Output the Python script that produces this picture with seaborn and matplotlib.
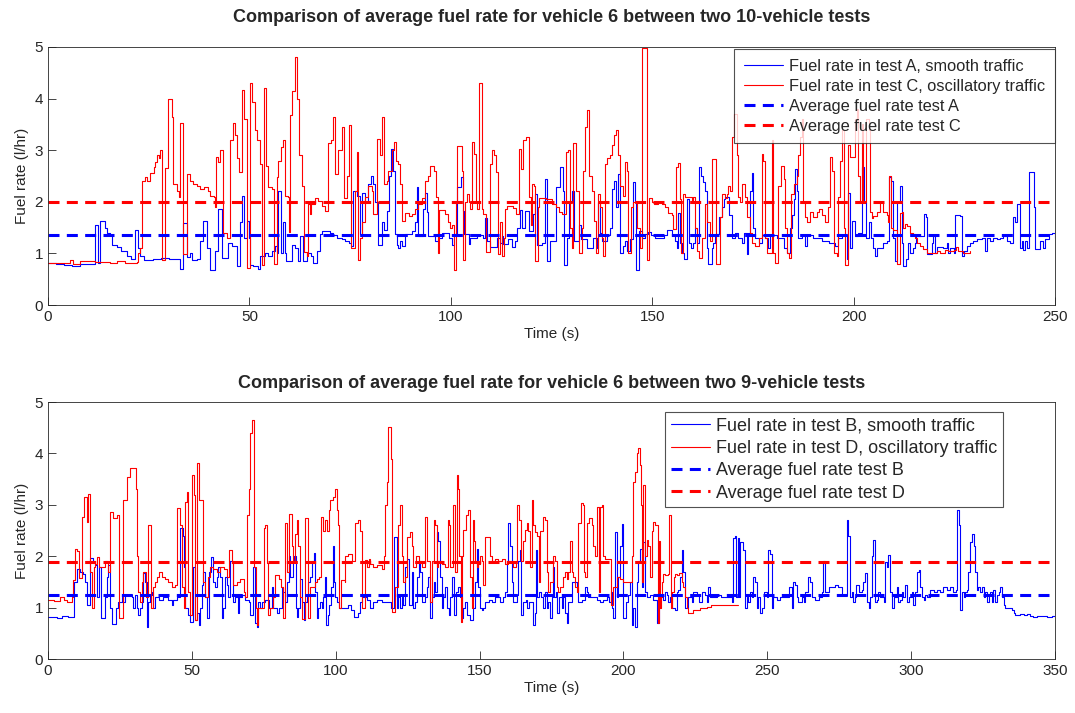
import matplotlib
matplotlib.use("Agg")
import matplotlib.pyplot as plt
import seaborn as sns

# ---- data: (time s, fuel rate l/hr) step points ----
test_a = [(0,0.82),(2,0.80),(4,0.78),(6,0.76),(8,0.79),(10,0.80),(11.7,1.55),(12.3,0.82),(12.9,1.62),
    (14.2,1.5),(14.7,1.4),(15.4,1.35),(16,1.16),(17,1.12),(18.2,1.05),(19.5,0.95),(20.5,0.9),(21.6,1.45),
    (22.4,1.1),(22.8,0.95),(23.7,0.88),(26,0.9),(28,0.92),(30,0.9),(32.8,0.7),(33.6,1.58),(34.4,0.94),
    (35.2,1.0),(35.7,0.88),(37,0.9),(37.7,1.24),(38.4,1.63),(39.4,1.1),(40.2,0.68),(41.5,1.04),(42.3,1.86),
    (43.1,0.91),(44.8,1.2),(45.6,1.15),(46.9,0.75),(47.7,1.6),(48.1,2.12),(48.7,1.3),(49.3,1.63),(49.9,1.3),
    (50.2,0.78),(50.9,0.75),(52.2,0.7),(52.6,0.95),(53.9,1.0),(54.7,0.95),(55.5,1.05),(56.3,1.15),(56.8,1.0),
    (57.2,2.21),(57.8,1.0),(58.4,1.6),(58.8,1.0),(59.2,0.85),(60.5,1.17),(61.3,1.1),(62,0.85),(62.6,1.34),
    (63.4,0.85),(64.2,1.0),(65.4,0.95),(65.9,0.81),(66.7,1.05),(67.5,1.37),(67.9,1.43),(70,1.4),(70.8,1.35),
    (71.7,1.3),(72.9,1.28),(73.7,1.25),(74.6,1.2),(75.2,1.15),(75.6,2.21),(76.6,2.12),(77.5,1.37),(77.9,2.18),
    (78.7,2.0),(79.5,2.35),(80.2,2.5),(80.8,2.35),(81.2,2.0),(81.8,1.17),(82.8,1.6),(83.5,1.45),(84.1,1.82),
    (84.7,2.5),(85.2,3.03),(85.7,2.6),(86.2,1.37),(86.6,1.17),(87,1.1),(87.4,1.25),(87.8,1.15),(88.6,1.37),
    (90.3,1.43),(91.1,1.6),(91.5,2.28),(91.9,1.34),(93.2,1.86),(93.6,2.18),(94,1.8),(94.4,1.34),(96.1,1.24),
    (96.9,1.3),(97.7,1.4),(99.6,1.3),(100.2,1.16),(100.8,1.37),(101.5,2.28),(102.4,2.48),(102.9,1.82),
    (103.3,1.37),(104.4,1.18),(104.8,1.3),(106.4,1.35),(108,1.3),(108.5,1.69),(109,1.24),(109.6,1.12),
    (111.4,1.3),(112.2,1.2),(112.6,1.34),(113,1.18),(114.1,1.27),(115.1,1.12),(116,1.24),(116.4,1.5),
    (117.2,1.85),(117.6,1.5),(118.4,1.82),(119.5,1.43),(120.5,1.77),(120.9,2.15),(121.5,1.17),(122.6,1.2),
    (123.4,2.44),(123.8,0.85),(124.5,1.24),(126.1,2.28),(127.1,2.67),(127.8,2.2),(128.1,0.78),(128.8,1.3),
    (129.4,2.0),(130,2.21),(130.6,1.24),(131.7,1.55),(132.3,1.28),(133.7,1.1),(135.4,1.3),(136.2,1.1),
    (136.6,2.0),(137,1.4),(137.6,1.24),(138.7,1.35),(139.4,1.5),(140,2.25),(140.4,2.41),(141,1.9),(141.4,2.54),
    (142,1.0),(142.8,1.15),(143.2,1.24),(143.7,1.05),(144.5,1.27),(145.2,2.38),(145.6,2.0),(146,0.68),
    (146.6,1.43),(147.4,1.3),(148.2,1.37),(149,1.42),(149.8,1.35),(150.6,1.3),(152.8,1.35),(153.6,1.45),
    (154.8,1.35),(155.7,1.25),(156.1,1.1),(156.5,1.79),(156.9,1.2),(157.5,1.0),(158,0.9),(158.6,2.05),
    (159.1,1.2),(159.6,1.1),(160.2,1.2),(160.6,1.5),(161.1,1.2),(161.6,2.67),(162.1,2.5),(162.7,2.38),
    (163.1,2.2),(163.5,1.1),(163.9,0.8),(164.8,1.1),(165.2,1.2),(165.6,1.37),(166.6,1.7),(167.3,1.9),
    (167.7,2.05),(168.1,2.1),(169.1,1.75),(169.7,1.3),(170.6,1.4),(171.4,1.3),(172.2,1.2),(172.9,1.4),
    (173.5,0.98),(173.9,1.4),(174.3,2.2),(174.7,2.55),(175.1,1.5),(175.5,1.3),(176.4,1.2),(177.2,1.35),
    (178,1.3),(178.8,1.1),(179.3,1.35),(180.9,1.3),(182.6,1.1),(183.4,1.0),(184.2,1.5),(184.6,1.75),
    (185.1,2.05),(185.5,2.64),(185.9,2.2),(186.3,1.3),(187.1,1.35),(188,1.15),(188.4,1.35),(190,1.3),
    (192.1,1.25),(193.8,1.2),(195.4,1.15),(196.2,1.3),(197.1,1.35),(198.3,0.9),(198.7,2.18),(199.1,1.1),
    (199.5,1.63),(200.3,1.34),(201.2,1.4),(202.2,2.67),(202.6,2.0),(203.1,1.3),(203.7,1.6),(204.2,1.3),
    (204.9,1.1),(205.3,0.95),(205.7,1.1),(207.4,1.2),(208.2,1.25),(208.9,2.48),(209.2,2.4),(209.7,1.3),
    (210.3,0.85),(210.7,2.0),(211.5,2.31),(211.9,1.2),(212.3,0.75),(213,0.9),(213.6,1.2),(214,1.0),
    (214.7,1.1),(215.2,1.2),(215.6,1.34),(217.5,1.76),(218,1.7),(218.3,0.98),(219.4,1.2),(219.8,1.34),
    (220.2,1.0),(220.6,1.12),(222.3,1.1),(223.1,1.2),(223.5,1.0),(223.9,1.1),(224.8,1.0),(225.2,1.75),
    (226.4,1.73),(226.8,0.95),(227.3,1.05),(228.1,1.15),(228.9,1.2),(229.7,1.24),(230.6,1.28),(231.8,1.3),
    (232.6,1.05),(233,1.3),(233.9,1.24),(234.7,1.3),(235.5,1.27),(236.4,1.3),(237.2,1.34),(238,1.24),
    (238.8,1.2),(239.5,1.7),(240.1,1.6),(240.5,1.95),(241.2,1.1),(241.7,1.24),(242.1,1.07),(242.6,1.24),
    (243,1.1),(243.6,2.57),(244.9,1.9),(245.1,1.08),(246.3,1.24),(246.9,1.1),(247.5,1.27),(248.4,1.37),
    (249.2,1.4),(250,1.3)]

test_c = [(0,0.82),(5.5,0.88),(6.2,0.8),(8,0.85),(11.7,0.84),(15.4,0.82),(17,0.86),(19,0.82),(22,0.84),
    (22.4,1.0),(22.8,1.1),(23.3,2.41),(24.1,2.48),(24.6,2.4),(25.3,2.55),(26.2,2.67),(26.6,2.77),(27,2.9),
    (27.6,2.85),(27.8,3.0),(28.2,0.88),(29.1,2.65),(29.9,4.0),(30.7,3.65),(31.1,2.35),(31.9,2.2),(32.4,2.1),
    (32.8,3.52),(33.4,0.98),(34.4,2.54),(35.3,2.4),(36.1,2.35),(36.9,2.3),(37.7,2.25),(38.6,2.28),(39.8,2.2),
    (40.2,2.12),(41.1,2.1),(41.5,1.9),(41.7,2.87),(42.3,2.77),(42.7,3.0),(43.4,1.4),(44.4,1.3),(45.2,3.19),
    (45.9,3.52),(46.4,3.29),(47,2.85),(47.5,2.57),(48.1,4.17),(48.7,3.6),(49.3,0.72),(50.1,4.3),(50.7,3.94),
    (51.4,3.39),(52,3.19),(52.6,2.74),(53,0.78),(53.5,4.2),(54,2.7),(54.5,2.28),(55.5,2.25),(56.2,0.8),
    (56.8,2.48),(57.2,2.8),(57.8,3.06),(58.4,3.19),(58.8,2.12),(59.5,2.1),(59.7,1.42),(60.1,3.68),(60.5,4.14),
    (61.3,4.81),(61.9,4.0),(62.4,2.9),(63,2.3),(63.6,1.03),(64.2,0.95),(64.6,1.95),(65,1.76),(65.4,1.95),
    (66.3,2.08),(67.1,2.02),(67.9,1.92),(68.8,1.82),(69.4,3.13),(70.3,3.2),(70.8,3.65),(71.2,2.54),(72.1,3.0),
    (72.9,3.44),(73.6,2.08),(74.1,2.5),(74.7,3.49),(75.2,1.1),(76.2,2.2),(76.6,2.96),(77,0.88),(77.5,1.3),
    (77.9,1.6),(78.6,2.1),(79.5,2.3),(80.4,2.2),(80.8,1.76),(81.6,3.22),(82.4,2.9),(82.8,3.65),(83.3,2.35),
    (84.1,2.41),(84.5,2.6),(85.3,3.0),(86,3.16),(86.3,2.8),(87,2.74),(87.4,2.35),(87.8,1.63),(88.6,1.79),
    (89.5,1.72),(90.3,1.76),(91.1,1.86),(91.9,1.95),(92.8,2.08),(93.6,2.41),(94.3,2.5),(94.8,2.7),(95.7,2.6),
    (96.3,2.1),(96.7,1.01),(97.1,1.85),(98.6,1.76),(99.4,1.6),(99.8,1.5),(100.4,1.55),(100.9,0.68),(101.3,2.0),
    (101.5,3.09),(102.7,2.6),(103.1,0.88),(103.5,2.0),(104,2.15),(104.4,2.0),(104.8,1.86),(105.2,3.16),
    (105.8,2.93),(106.3,2.0),(106.6,1.86),(107.1,4.3),(107.7,1.86),(108.1,1.76),(108.7,1.03),(109.6,2.74),
    (110.1,3.0),(110.7,2.9),(111.2,2.57),(111.8,0.99),(112.2,1.6),(112.8,0.95),(113.1,1.3),(113.5,1.86),
    (114.0,1.92),(115.5,1.88),(116.3,1.77),(116.8,3.03),(117.4,2.64),(117.8,3.19),(118.7,3.26),(119.5,2.1),
    (119.9,1.56),(120.1,2.35),(120.7,2.3),(120.9,0.85),(121.6,1.9),(122.0,2.08),(123.6,2.05),(125,1.95),
    (126.1,1.89),(126.9,1.8),(127.7,1.76),(128.6,2.96),(129.2,3.0),(129.6,1.5),(130,1.1),(130.4,3.13),
    (131.1,2.2),(131.7,1.01),(132.5,1.5),(132.9,2.6),(133.3,3.45),(133.7,3.78),(134.4,2.5),(135,2.2),
    (135.6,1.63),(136.1,1.01),(136.6,2.15),(137.1,1.9),(137.5,1.3),(137.9,0.95),(138.3,2.74),(138.7,2.85),
    (139.4,2.9),(140,3.1),(140.4,3.29),(141,3.39),(141.4,2.9),(142,2.3),(142.7,2.12),(143.3,2.77),(143.7,2.6),
    (144.1,1.01),(144.7,1.9),(145.3,2.0),(146.2,1.5),(147,1.1),(147.4,4.98),(148.6,0.88),(149.2,2.08),
    (149.9,2.0),(150.5,1.95),(151.5,2.0),(152.4,1.95),(153.2,1.9),(154,1.79),(154.8,1.75),(155.2,1.47),
    (155.8,2.67),(156.5,2.75),(156.9,2.05),(157.2,1.0),(157.7,2.15),(158.1,2.1),(159.8,2.0),(160.2,2.1),
    (160.6,1.5),(161.1,1.04),(161.6,0.91),(162.3,1.3),(163,1.95),(163.5,1.6),(164.4,1.25),(164.8,2.83),
    (165.4,2.83),(165.8,0.8),(166.4,0.8),(166.8,1.7),(167.3,2.15),(168.1,2.08),(168.5,2.15),(168.9,2.3),
    (169.3,2.2),(169.9,3.26),(170.4,3.7),(171,2.9),(171.4,2.1),(171.8,2.0),(172.2,2.35),(173.1,2.1),(173.5,1.7),
    (174.3,1.4),(174.7,1.2),(175.5,1.15),(176.4,1.3),(177.2,2.93),(177.6,2.8),(178,1.3),(178.4,1.0),(179.3,1.0),
    (179.7,3.19),(180.1,1.0),(180.5,0.82),(181.3,2.3),(182,2.7),(182.6,2.45),(183,1.5),(183.4,1.0),(184,0.91),
    (184.5,2.15),(185.1,2.35),(185.9,2.5),(186.3,2.9),(186.7,3.26),(187.1,3.6),(187.5,2.0),(188,1.7),(188.4,1.6),
    (189.2,1.8),(190,1.7),(190.9,1.8),(191.4,1.86),(192.1,1.75),(192.9,1.6),(193.7,1.9),(194.2,2.87),(194.7,2.6),
    (195.2,1.01),(195.8,0.95),(196.2,2.1),(196.6,2.8),(197.1,3.4),(197.5,1.5),(197.9,0.77),(198.5,3.1),
    (199.1,2.87),(200.3,3.6),(200.8,3.8),(201.2,2.5),(201.6,1.99),(202,3.5),(202.4,2.0),(203.1,3.6),(203.7,3.4),
    (204.1,1.8),(204.5,1.69),(204.9,1.72),(205.7,1.8),(206.5,1.99),(207.4,1.8),(208.2,1.75),(208.6,1.6),
    (208.9,2.5),(209.3,1.5),(209.9,1.45),(210.7,0.8),(211.5,1.79),(211.9,1.8),(212.3,1.5),(212.8,1.57),
    (213.2,1.53),(214,1.4),(214.8,1.37),(215.2,1.3),(215.7,1.2),(216.5,1.14),(217.3,1.08),(218.1,1.01),
    (220.6,1.04),(221.4,1.01),(222.7,1.07),(223.5,1.04),(224.8,1.07),(225.4,1.12),(226,1.05),(227.2,1.0),
    (229,1.05)]

test_b = [(0,0.82),(3,0.8),(5,0.83),(7,0.82),(8.8,0.82),(9.1,1.5),(10.2,1.76),(11.1,1.7),(12,1.65),(12.9,1.5),
    (13.4,1.05),(14.6,1.96),(15.5,1.9),(16.3,1.83),(16.9,1.2),(17.8,1.8),(18.4,0.8),(19.8,1.2),(20.4,1.6),
    (21,1.83),(21.5,1.0),(22.1,0.69),(23.6,1.0),(24.4,1.1),(25.6,1.2),(26.2,1.1),(26.8,1.25),(28,1.25),
    (29.1,1.2),(29.7,1.0),(30.2,1.25),(30.8,1.0),(31.4,0.85),(32,1.0),(32.6,1.1),(33.1,1.67),(33.7,1.5),
    (34.3,0.63),(34.9,1.1),(35.5,1.25),(36.1,1.3),(36.6,1.0),(37.2,1.2),(38.4,1.15),(40.1,1.2),(41.8,1.15),
    (43,1.05),(43.6,1.15),(44.7,1.2),(45.7,2.54),(46.8,2.4),(47.3,1.8),(47.6,1.0),(48.8,0.85),(49.4,0.73),
    (50.3,1.8),(51.1,0.75),(51.7,0.9),(52.3,0.66),(52.8,1.0),(53.4,1.44),(54,1.7),(54.6,1.2),(55.2,0.8),
    (56.1,1.7),(56.7,1.99),(57.2,1.5),(58,1.4),(58.6,1.6),(59.2,1.8),(59.8,1.6),(60.4,0.8),(60.9,1.0),
    (61.5,1.6),(62.1,1.45),(62.7,1.2),(63.3,1.9),(64.2,1.1),(65,1.2),(65.9,0.89),(66.5,1.2),(67.3,1.25),
    (68.5,1.15),(69.7,1.1),(70.2,0.86),(71.4,1.8),(72,0.7),(72.6,0.63),(73.1,1.1),(73.7,1.0),(74.3,1.1),
    (75.5,1.15),(76.8,1.0),(77.8,1.4),(78.3,1.0),(79.5,0.9),(80.1,1.0),(81.2,1.4),(81.8,1.3),(82.4,1.1),
    (83,1.5),(83.6,2.0),(84.1,1.6),(85.3,1.9),(85.6,2.0),(86.1,1.0),(86.5,0.82),(87.0,1.0),(87.6,1.55),
    (88.2,1.1),(88.8,0.75),(89.4,1.1),(89.9,1.2),(90.5,1.5),(91.1,1.6),(91.7,1.9),(92.3,2.06),(92.8,1.3),
    (93.4,0.8),(94,1.0),(94.6,1.1),(95.1,1.0),(95.7,1.2),(96.1,1.6),(96.5,0.67),(97.2,0.85),(97.8,1.05),
    (98.4,1.4),(98.9,2.2),(99.3,1.5),(99.8,1.2),(100.4,1.1),(101.2,1.0),(104.4,1.05),(105.3,0.95),(106.2,0.82),
    (107.9,0.9),(108.5,1.1),(109.1,1.2),(110.8,1.15),(112,1.0),(113.1,1.1),(114.3,1.15),(116,1.1),(119.2,1.0),
    (120.1,2.38),(121.2,1.0),(121.8,1.2),(122.4,1.0),(123,1.2),(123.5,1.05),(124.1,1.8),(124.7,1.95),
    (125.3,1.05),(126.4,1.7),(127,1.0),(127.6,1.1),(128.2,1.6),(128.8,1.9),(129.3,1.7),(129.9,1.1),(131.1,1.2),
    (131.7,1.4),(132.2,1.6),(132.8,0.79),(133.4,1.2),(134,1.5),(134.5,1.3),(135.1,2.48),(135.7,2.3),(136.3,1.6),
    (136.9,1.0),(137.4,1.2),(138,1.4),(138.6,1.0),(139.2,0.85),(139.8,1.2),(140.3,1.6),(141.1,0.85),(141.8,1.3),
    (142.6,1.4),(143.2,1.2),(143.8,0.8),(144.3,1.0),(144.9,1.1),(145.5,0.85),(146.7,0.76),(147.2,0.75),
    (147.8,1.0),(148.4,1.5),(149,2.14),(149.5,1.4),(150.1,1.0),(150.7,0.95),(151.3,1.0),(151.9,1.1),(153.2,1.15),
    (154.2,1.1),(155.3,1.2),(157.1,1.1),(158.2,1.2),(158.8,1.3),(159.4,1.7),(159.6,1.9),(160,2.64),(160.6,2.2),
    (161.1,1.5),(161.7,1.1),(162.9,1.25),(163.5,1.9),(164,2.12),(164.4,0.85),(165.2,1.1),(166.1,1.15),
    (166.6,1.0),(167.3,1.1),(168.7,0.66),(169.2,0.9),(169.6,2.12),(170.1,1.2),(170.8,1.3),(171.2,1.2),
    (171.9,1.0),(172.7,1.3),(173.3,1.0),(173.9,1.1),(174.5,0.8),(175.0,1.2),(175.4,1.8),(175.9,1.2),(176.5,1.3),
    (177,0.9),(177.7,1.2),(178.5,1.0),(179.1,1.2),(179.7,0.9),(180.3,0.7),(180.8,1.1),(182,1.5),(183.7,1.4),
    (184.3,1.1),(185.5,1.15),(186.6,1.4),(187.2,1.3),(187.8,1.2),(189.5,1.2),(190.7,1.15),(191.8,1.1),
    (193,1.15),(194.2,1.2),(195.1,1.1),(195.6,1.3),(196.1,1.0),(196.5,0.8),(197.1,2.48),(197.6,1.2),(198.2,1.6),
    (198.8,2.2),(199.4,2.62),(199.7,1.2),(200,0.8),(200.9,1.1),(201.7,1.25),(202.3,1.5),(202.9,0.67),(203.4,1.0),
    (204,0.63),(204.6,1.5),(205.2,1.9),(205.7,2.14),(206.3,1.4),(206.9,2.28),(207.5,1.3),(208.1,1.2),
    (209.2,1.25),(210.4,1.15),(211.6,0.7),(212.2,1.2),(213.3,1.25),(213.9,1.15),(214.5,1.3),(215.1,1.25),
    (215.6,1.1),(216.2,1.2),(216.8,1.0),(218,0.95),(218.5,1.3),(219.1,1.35),(219.7,1.6),(220.3,2.12),(220.8,1.7),
    (221.4,1.0),(222.6,1.2),(223.7,1.1),(224.3,1.3),(225.5,1.25),(226.1,1.1),(227.2,1.3),(228.4,1.25),(229,1.1),
    (229.5,1.4),(230.1,1.2),(232.6,1.25),(233.8,1.2),(237.6,1.1),(238,2.35),(238.6,2.4),(239.2,1.2),(239.7,2.35),
    (240.2,1.2),(240.5,2.28),(241.4,2.12),(242.1,1.0),(242.9,1.2),(243.4,1.1),(244,1.3),(244.6,1.2),(245.2,1.6),
    (245.8,1.5),(246.3,1.0),(246.9,1.2),(247.5,0.89),(248.1,1.0),(248.7,1.3),(249.8,1.2),(250.4,2.12),(251,2.05),
    (251.6,1.0),(252.1,1.2),(253.3,1.15),(254.5,1.2),(256.8,1.2),(257.4,1.4),(258.5,1.0),(259.1,1.5),(259.7,1.45),
    (260.2,1.2),(260.8,1.1),(262,1.2),(262.6,1.1),(263.1,1.3),(264.3,1.6),(264.9,1.5),(265.5,1.2),(266.6,1.15),
    (267.8,1.2),(268.9,1.3),(269.5,1.9),(270.1,1.3),(271.3,1.4),(273.6,1.45),(274.7,1.4),(275.9,1.25),
    (277.6,2.7),(278.2,2.4),(278.8,1.2),(279.4,1.3),(279.9,1.1),(280.5,1.2),(281,1.45),(281.7,1.3),(282.8,1.35),
    (283.4,1.5),(284,1.67),(284.6,1.1),(285.2,1.0),(285.8,1.2),(286.3,2.0),(286.9,2.31),(287.5,1.1),(288.1,1.15),
    (288.6,1.3),(289.2,1.2),(290.4,1.1),(291,1.89),(291.5,1.8),(292.1,2.02),(292.7,1.3),(293.3,1.0),(293.9,1.2),
    (295,1.4),(295.6,1.1),(296.2,1.15),(296.8,1.3),(297.3,1.2),(297.9,1.45),(298.5,1.1),(299.1,1.2),(300.2,1.3),
    (300.8,1.05),(301.4,1.3),(302,1.7),(302.6,1.73),(303.1,1.4),(303.7,1.2),(304.3,1.15),(304.9,1.25),(305.5,1.2),
    (306.6,1.35),(307.8,1.3),(308.9,1.35),(310.1,1.3),(311.2,1.4),(312.4,1.35),(313.6,1.4),(314.7,1.3),
    (315.6,1.35),(315.9,2.9),(316.6,2.6),(317,0.95),(317.6,1.3),(318.2,1.2),(318.8,1.3),(319.4,1.35),(319.9,1.7),
    (320.5,2.28),(321.1,2.44),(321.7,2.2),(322.3,1.7),(322.8,1.35),(323.4,1.4),(324,1.3),(324.6,1.4),(325.2,1.2),
    (325.7,1.3),(326.3,1.1),(326.9,1.25),(327.5,1.3),(328,1.1),(328.6,1.35),(329.2,1.1),(329.8,1.25),(330.4,1.3),
    (330.9,1.4),(331.5,1.2),(332.1,1.05),(332.7,1.0),(333.8,1.0),(335,0.95),(335.6,0.9),(336.2,0.86),(337.9,0.88),
    (339.1,0.85),(340.2,0.88),(341.4,0.83),(342.5,0.82),(343.7,0.84),(345.4,0.83),(347.2,0.82),(348.9,0.83),
    (350,0.83)]

test_d = [(0,1.15),(2,1.12),(4.2,1.2),(5.5,1.15),(6.5,1.1),(8.2,1.2),(8.6,1.54),(9.4,2.15),(10.2,2.1),(10.9,1.57),
    (11.7,2.77),(12.6,3.16),(13.4,2.67),(14,3.22),(14.6,1.7),(15.2,0.99),(15.8,1.8),(16.3,1.85),(16.9,1.99),
    (17.8,1.8),(19.8,1.9),(21,1.7),(21.6,2.87),(22.5,2.74),(23.3,2.75),(24,2.8),(24.8,0.8),(26.2,3.09),
    (27.6,3.55),(28.5,3.71),(30.5,3.3),(30.8,2.0),(31.4,1.3),(31.8,1.1),(32.6,1.5),(33.1,1.7),(34.1,1.2),
    (34.6,2.61),(35.8,1.0),(36.6,1.4),(37.2,1.5),(38,1.6),(38.7,1.7),(39.5,1.6),(40.7,1.55),(41.8,1.5),(43,1.4),
    (44.1,1.45),(44.7,2.2),(44.9,2.93),(45.7,2.6),(46.5,1.4),(47.1,1.0),(47.6,3.06),(48.2,3.25),(48.8,1.3),
    (49.4,0.85),(50,3.58),(50.8,3.2),(51.1,0.75),(51.7,3.81),(52.6,3.1),(53.4,3.09),(54,1.5),(54.6,1.2),
    (55.7,1.6),(56.3,1.8),(57.5,1.75),(58.6,1.7),(59.8,1.8),(61,1.75),(62.1,1.6),(63,2.12),(63.9,1.9),(64.4,1.45),
    (65.6,1.5),(66.7,1.55),(68.1,1.3),(68.5,1.2),(69.1,2.8),(69.7,3.3),(70.2,4.39),(70.8,4.65),(71.7,1.8),
    (72.2,1.0),(72.6,0.66),(73.1,1.0),(74.9,2.54),(75.5,2.6),(76,1.86),(76.6,0.86),(77.2,1.0),(78.3,1.2),
    (78.9,1.63),(80.1,1.55),(81,1.4),(81.8,0.79),(82.4,2.64),(83,1.7),(83.6,2.83),(84.7,2.2),(85.3,1.9),
    (85.9,2.44),(86.5,2.7),(87,2.2),(87.6,1.2),(88.2,0.78),(89.4,2.74),(90.3,0.8),(91.1,1.4),(92.8,1.5),
    (93.4,1.55),(94.2,1.6),(94.9,2.77),(95.5,2.5),(96.3,2.7),(96.9,2.5),(97.5,2.9),(98,3.09),(98.9,3.16),
    (99.6,3.3),(100.4,2.9),(100.9,2.6),(101.3,1.0),(101.9,1.54),(103.2,1.5),(103.3,2.0),(104.4,2.05),(105.6,1.9),
    (106.7,2.64),(107.7,2.7),(108.5,2.5),(109.1,1.0),(109.6,0.99),(110.2,1.93),(110.8,1.8),(111.4,1.95),(112,1.85),
    (113.1,1.8),(114.3,1.83),(116,1.75),(116.6,2.0),(117.2,3.0),(117.7,3.45),(118.3,4.52),(119.1,3.9),(119.5,0.92),
    (120.6,1.4),(121.8,2.6),(122.4,3.0),(123,2.0),(123.5,1.5),(124.1,1.6),(124.7,2.38),(125.9,2.48),(126.4,2.2),
    (127,1.8),(127.8,2.0),(128.8,1.9),(129.9,1.8),(131.1,2.77),(131.7,1.9),(132.8,1.1),(133.4,1.9),(134,2.7),
    (134.5,2.6),(135.1,1.8),(135.7,1.9),(137,1.85),(138,1.8),(139,2.7),(139.4,2.6),(139.8,1.8),(140.9,3.0),
    (141.4,1.7),(142,3.58),(142.6,3.3),(143,2.0),(143.4,0.73),(143.8,2.0),(144.1,2.51),(145.3,2.8),(146.1,2.9),
    (146.7,1.6),(147.2,1.0),(147.6,2.7),(148,2.3),(148.4,1.9),(149,1.8),(149.5,1.85),(150.1,2.0),(150.7,1.9),
    (151.3,1.44),(151.9,2.38),(153.6,2.0),(154.2,1.9),(155.3,1.95),(156.5,1.9),(157.7,1.95),(158.8,1.85),
    (160,1.9),(161.7,1.8),(162.6,1.9),(163.1,3.0),(163.8,2.7),(164.3,1.9),(165.2,2.3),(165.8,2.51),(166.4,2.64),
    (166.9,2.5),(167.5,1.8),(168.1,3.09),(168.7,2.6),(169.2,2.48),(170,2.4),(170.7,1.5),(171,2.5),(172.1,2.77),
    (172.7,2.7),(173.3,1.7),(173.9,1.3),(174.5,1.5),(175.6,2.0),(176.2,1.9),(176.8,1.4),(177.4,1.3),(177.9,1.4),
    (179.1,1.6),(179.7,1.7),(180.3,1.55),(180.8,1.7),(181.4,2.3),(182,1.7),(182.6,1.6),(183.2,1.4),(183.7,1.3),
    (184.3,2.64),(185.1,3.03),(185.8,3.0),(186.3,1.7),(186.6,1.6),(187.2,2.64),(188.1,2.74),(188.9,2.6),
    (189.5,2.2),(190.1,2.0),(190.7,2.96),(191.4,1.3),(191.8,2.96),(192.4,3.0),(192.8,2.0),(193.6,1.95),
    (194.8,1.95),(195.6,1.05),(196.5,1.4),(197.6,1.6),(198.8,1.55),(200,1.5),(201.2,1.5),(202.3,1.5),(202.9,2.0),
    (203.2,3.45),(204,3.64),(204.6,4.0),(205.2,4.11),(205.7,3.78),(206.1,3.0),(206.3,1.5),(206.9,3.39),(207.5,2.0),
    (208.1,2.31),(208.6,2.2),(209.2,1.6),(209.8,2.5),(210.4,2.67),(211,2.6),(211.9,0.7),(212.4,2.3),(212.7,1.0),
    (213.1,1.2),(213.5,1.5),(213.9,1.65),(214.5,1.63),(215.4,1.65),(215.9,2.8),(216.5,0.99),(216.8,1.3),
    (217.4,1.6),(218,1.65),(218.5,1.63),(219.3,1.67),(220.3,1.5),(220.8,1.4),(221.4,1.2),(222,1.0),(222.6,0.89),
    (223.2,0.9),(224.3,0.95),(225.5,0.95),(226.6,1.0),(228,1.0),(229.1,1.02),(230.3,1.05),(233,1.05),
    (234.8,1.05),(236.5,1.05),(239.7,1.05)]

avg_a, avg_c = 1.35, 2.0
avg_b, avg_d = 1.245, 1.89

titles = ["Comparison of average fuel rate for vehicle 6 between two 10-vehicle tests",
          "Comparison of average fuel rate for vehicle 6 between two 9-vehicle tests"]
labels_top = ["Fuel rate in test A, smooth traffic", "Fuel rate in test C, oscillatory traffic",
              "Average fuel rate test A", "Average fuel rate test C"]
labels_bot = ["Fuel rate in test B, smooth traffic", "Fuel rate in test D, oscillatory traffic",
              "Average fuel rate test B", "Average fuel rate test D"]

sns.set_theme(style="white")
plt.rcParams["font.family"] = ["Liberation Sans", "DejaVu Sans"]

fig = plt.figure(figsize=(10.75, 7.13), dpi=100)
ax1 = fig.add_axes([0.0447, 0.5722, 0.9367, 0.3619])
ax2 = fig.add_axes([0.0447, 0.0757, 0.9367, 0.3604])


def draw(ax, smooth, osc, avg_s, avg_o, xmax, labels, title, fs_leg, anchor, pad, hlen, bpad, lspace):
    ts, vs = zip(*sorted(smooth))
    to, vo = zip(*sorted(osc))
    sns.lineplot(x=list(ts), y=list(vs), ax=ax, color="#0000ff", lw=0.8,
                 drawstyle="steps-post", estimator=None, sort=False, label=labels[0])
    sns.lineplot(x=list(to), y=list(vo), ax=ax, color="#ff0000", lw=0.8,
                 drawstyle="steps-post", estimator=None, sort=False, label=labels[1])
    for val, col, lab in [(avg_s, "#0000ff", labels[2]), (avg_o, "#ff0000", labels[3])]:
        sns.lineplot(x=[0, xmax], y=[val, val], ax=ax, color=col, lw=2.2,
                     estimator=None, sort=False, label=lab)
        ax.lines[-1].set_dashes((3.6, 2.4))
    ax.set_xlim(0, xmax)
    ax.set_ylim(0, 5)
    ax.set_xticks(range(0, xmax + 1, 50))
    ax.set_yticks(range(0, 6))
    ax.tick_params(direction="in", length=6, width=0.6, labelsize=11, color="0.15",
                   labelcolor="0.15", bottom=True, left=True)
    for sp in ax.spines.values():
        sp.set_color("0.15")
        sp.set_linewidth(0.6)
    ax.set_xlabel("Time (s)", fontsize=11, color="0.15", labelpad=2)
    ax.set_ylabel("Fuel rate (l/hr)", fontsize=11, color="0.15")
    ax.set_title(title, fontsize=13, fontweight="bold", pad=pad)
    leg = ax.legend(loc="upper right", bbox_to_anchor=anchor, borderaxespad=0,
                    fontsize=fs_leg, frameon=True, fancybox=False, edgecolor="0.15",
                    handlelength=hlen, handletextpad=0.35, borderpad=bpad, labelspacing=lspace)
    leg.get_frame().set_linewidth(0.8)


draw(ax1, test_a, test_c, avg_a, avg_c, 250, labels_top, titles[0], 11.8, (1.0, 0.992), 18, 2.4, 0.6, 0.3)
draw(ax2, test_b, test_d, avg_b, avg_d, 350, labels_bot, titles[1], 13, (0.948, 0.961), 10, 2.15, 0.3, 0.3)

fig.savefig("out.png", dpi=100)
